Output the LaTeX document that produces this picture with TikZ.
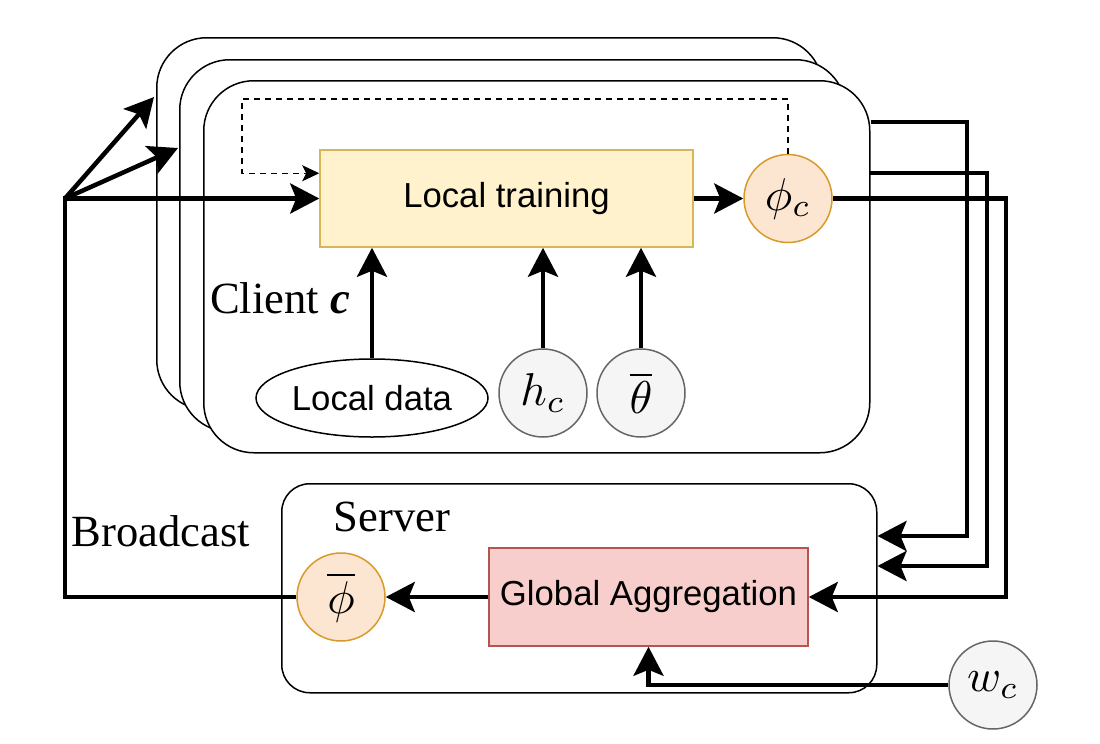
\documentclass[tikz,border=0pt]{standalone}
\usepackage{graphicx}
\usepackage[no-math]{fontspec}
\setmainfont{Liberation Serif}
\setsansfont{Liberation Sans}
\usetikzlibrary{arrows.meta,calc,shapes.geometric}
\definecolor{ltfill}{HTML}{FFF2CC}
\definecolor{ltdraw}{HTML}{D6B656}
\definecolor{phfill}{HTML}{FCE6D2}
\definecolor{phdraw}{HTML}{D79B2A}
\definecolor{gyfill}{HTML}{F5F5F5}
\definecolor{gydraw}{HTML}{666666}
\definecolor{gafill}{HTML}{F8CECC}
\definecolor{gadraw}{HTML}{B85450}
\newcommand{\bigmath}[1]{\scalebox{4.6}{$#1$}}
\begin{document}
\begin{tikzpicture}[x=1pt,y=-1pt,
  cbox/.style={draw=black, fill=white, line width=1.5pt, rounded corners=50pt,
    minimum width=666pt, minimum height=372pt, inner sep=0pt, anchor=north west},
  sbox/.style={draw=black, fill=white, line width=1.5pt, rounded corners=28pt,
    minimum width=595pt, minimum height=209pt, inner sep=0pt, anchor=north west},
  sansbox/.style={line width=1.5pt, inner sep=0pt, font=\fontsize{34.7}{40}\sffamily},
  mcirc/.style={circle, line width=1.5pt, minimum size=88pt, inner sep=0pt},
  phic/.style={mcirc, draw=phdraw, fill=phfill},
  grayc/.style={mcirc, draw=gydraw, fill=gyfill},
  lbl/.style={font=\fontsize{44.6}{50}\selectfont\rmfamily, inner sep=0pt},
  conn/.style={line width=4.5pt, -{Stealth[length=29pt,width=30pt,inset=6pt]}},
  dasharrow/.style={line width=1.5pt, dash pattern=on 6pt off 5pt,
    -{Stealth[length=17pt,width=16pt,inset=4pt]}}
]
\useasboundingbox (0,0) rectangle (1100,744);

% client boxes
\node[cbox] (cback) at (156,37) {};
\node[cbox] (cmid) at (179,59) {};
\node[cbox] (cfront) at (203,80) {};

% server box
\node[sbox] (server) at (281,483) {};

% nodes in client
\node[sansbox, draw=ltdraw, fill=ltfill, minimum width=373pt, minimum height=97pt]
  (ltrain) at (506.5,198.5) {Local training};
\node[phic] (phic) at (788,198.5) {\bigmath{\phi_c}};
\node[draw=black, fill=white, ellipse, line width=1.5pt, minimum width=232pt,
  minimum height=78pt, inner sep=0pt, font=\fontsize{34.7}{40}\sffamily]
  (ldata) at (372,398) {Local data};
\node[grayc] (hc) at (543,393) {\bigmath{h_c}};
\node[grayc] (thb) at (641,393) {\bigmath{\overline{\theta}}};
\node[lbl] (client) at (280,298) {Client \textbf{\textit{c}}};

% server nodes
\node[sansbox, draw=gadraw, fill=gafill, minimum width=319pt, minimum height=98pt]
  (gagg) at (648.5,597) {Global Aggregation};
\node[phic] (phib) at (341,597) {\bigmath{\overline{\phi}}};
\node[lbl] (serverlbl) at (392,517) {Server};
\node[lbl] (bcast) at (161,531) {Broadcast};
\node[grayc] (wc) at (993,685) {\bigmath{w_c}};

% coordinates
\coordinate (bc) at (65,198.5);
\coordinate (t1) at (154,97);
\coordinate (t2) at (178,148);
\coordinate (dtop) at (242,99);
\coordinate (dend) at ($(ltrain.north west)+(0,24)$);
\coordinate (o1) at (871,122);
\coordinate (k1) at (967,536);
\coordinate (o2) at (869,173);
\coordinate (k2) at (987,566);
\coordinate (k3) at (1006,597);

% dashed feedback
\draw[dasharrow] (phic.north) |- (dtop) |- (dend);

% broadcast
\draw[conn] (phib.west) -| (bc) -- (ltrain.west);
\draw[conn] (bc) -- (t1);
\draw[conn] (bc) -- (t2);

% inputs to local training
\draw[conn] (ldata.north) -- (ldata.north |- ltrain.south);
\draw[conn] (hc.north) -- (hc.north |- ltrain.south);
\draw[conn] (thb.north) -- (thb.north |- ltrain.south);
\draw[conn] (ltrain.east) -- (phic.west);

% uploads to server
\draw[conn] (o1) -| (k1) -- (server.east |- k1);
\draw[conn] (o2) -| (k2) -- (server.east |- k2);
\draw[conn] (phic.east) -| (k3) -- (gagg.east);

% aggregation
\draw[conn] (gagg.west) -- (phib.east);
\draw[conn] (wc.west) -| (gagg.south);
\end{tikzpicture}
\end{document}
